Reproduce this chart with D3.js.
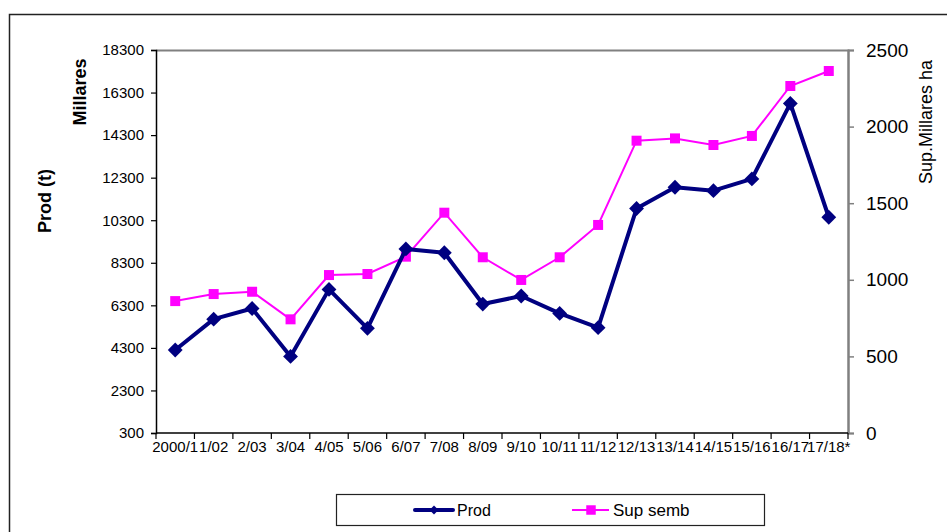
<!DOCTYPE html>
<html>
<head>
<meta charset="utf-8">
<script src="https://cdn.jsdelivr.net/npm/d3@7"></script>
<style>
  html, body { margin: 0; padding: 0; background: #fff; }
  svg { display: block; font-family: "Liberation Sans", Arial, sans-serif; }
</style>
</head>
<body>
<svg id="chart" width="947" height="532"></svg>
<script>
// Campaign labels
const seasons = ["2000/1", "1/02", "2/03", "3/04", "4/05", "5/06", "6/07", "7/08", "8/09",
  "9/10", "10/11", "11/12", "12/13", "13/14", "14/15", "15/16", "16/17", "17/18*"];
// Production (t, left axis)
const prod = [4200, 5650, 6150, 3900, 7050, 5220, 8950, 8770, 6360, 6740, 5920, 5250,
  10850, 11850, 11690, 12240, 15790, 10440];
// Sown area (thousand ha, right axis)
const supSemb = [861, 907, 922, 742, 1031, 1038, 1151, 1438, 1147, 999, 1147, 1358,
  1908, 1923, 1880, 1939, 2265, 2363];
// Axis ticks
const leftTicks = [300, 2300, 4300, 6300, 8300, 10300, 12300, 14300, 16300, 18300];
const rightTicks = [0, 500, 1000, 1500, 2000, 2500];

const svg = d3.select("#chart");
const m = { left: 156, right: 848, top: 50, bottom: 433 };

// outer frame
svg.append("rect")
  .attr("x", 9.5).attr("y", 14.5).attr("width", 960).attr("height", 540)
  .attr("fill", "none").attr("stroke", "#222").attr("stroke-width", 1.5);

const x = d3.scaleBand().domain(seasons).range([m.left, m.right]).padding(0);
const yL = d3.scaleLinear().domain([300, 18300]).range([m.bottom, m.top]);
const yR = d3.scaleLinear().domain([0, 2500]).range([m.bottom, m.top]);
const cx = d => x(d) + x.bandwidth() / 2;

// plot frame (top and right edges)
svg.append("path")
  .attr("d", `M${m.left},${m.top + 0.5}H${m.right + 0.5}V${m.bottom}`)
  .attr("fill", "none").attr("stroke", "#808080").attr("stroke-width", 2);

// left axis
const gL = svg.append("g").attr("transform", `translate(${m.left},0)`)
  .call(d3.axisLeft(yL).tickValues(leftTicks).tickSize(5).tickPadding(7).tickFormat(d3.format("d")));
gL.select(".domain").attr("stroke", "#000").attr("stroke-width", 1.5);
gL.selectAll(".tick line").attr("stroke", "#000").attr("stroke-width", 1.2);
gL.selectAll("text").attr("font-size", 15).attr("fill", "#000")
  .attr("font-family", "Liberation Sans, Arial, sans-serif");

// right axis
const gR = svg.append("g").attr("transform", `translate(${m.right},0)`)
  .call(d3.axisRight(yR).tickValues(rightTicks).tickSize(6).tickPadding(12).tickFormat(d3.format("d")));
gR.select(".domain").attr("stroke", "#808080").attr("stroke-width", 2);
gR.selectAll(".tick line").attr("stroke", "#808080").attr("stroke-width", 1.5);
gR.selectAll("text").attr("font-size", 19).attr("fill", "#000")
  .attr("font-family", "Liberation Sans, Arial, sans-serif");

// bottom axis: ticks at category boundaries
const boundaries = seasons.map(d => x(d)).concat([m.right]);
const gB = svg.append("g");
gB.append("line").attr("x1", m.left).attr("x2", m.right)
  .attr("y1", m.bottom).attr("y2", m.bottom)
  .attr("stroke", "#000").attr("stroke-width", 1.5);
gB.selectAll("line.tk").data(boundaries).join("line").attr("class", "tk")
  .attr("x1", d => d).attr("x2", d => d)
  .attr("y1", m.bottom).attr("y2", m.bottom + 6)
  .attr("stroke", "#000").attr("stroke-width", 1.2);
gB.selectAll("text").data(seasons).join("text")
  .attr("x", d => cx(d)).attr("y", m.bottom + 19)
  .attr("text-anchor", "middle").attr("font-size", 15).attr("fill", "#000")
  .text(d => d);

// axis titles
svg.append("text").attr("transform", "translate(86,92) rotate(-90)")
  .attr("text-anchor", "middle").attr("font-size", 18).attr("font-weight", "bold")
  .text("Millares");
svg.append("text").attr("transform", "translate(51,201) rotate(-90)")
  .attr("text-anchor", "middle").attr("font-size", 18).attr("font-weight", "bold")
  .text("Prod (t)");
svg.append("text").attr("transform", "translate(932,122) rotate(-90)")
  .attr("text-anchor", "middle").attr("font-size", 18)
  .text("Sup.Millares ha");

// series
const square = d3.symbol().type(d3.symbolSquare).size(100);

const lineR = d3.line().x((d, i) => cx(seasons[i])).y(d => yR(d));
svg.append("path").datum(supSemb).attr("d", lineR)
  .attr("fill", "none").attr("stroke", "#FF00FF").attr("stroke-width", 2);
svg.selectAll("path.sq").data(supSemb).join("path").attr("class", "sq")
  .attr("d", square)
  .attr("transform", (d, i) => `translate(${cx(seasons[i])},${yR(d)})`)
  .attr("fill", "#FF00FF");

const lineL = d3.line().x((d, i) => cx(seasons[i])).y(d => yL(d));
svg.append("path").datum(prod).attr("d", lineL)
  .attr("fill", "none").attr("stroke", "#000080").attr("stroke-width", 4)
  .attr("stroke-linejoin", "round");
svg.selectAll("path.dm").data(prod).join("path").attr("class", "dm")
  .attr("d", d3.symbol().type(d3.symbolSquare).size(110))
  .attr("transform", (d, i) => `translate(${cx(seasons[i])},${yL(d)}) rotate(45)`)
  .attr("fill", "#000080");

// legend
const lg = svg.append("g");
lg.append("rect").attr("x", 336.5).attr("y", 494.5).attr("width", 428).attr("height", 31)
  .attr("fill", "#fff").attr("stroke", "#222").attr("stroke-width", 1.2);
lg.append("line").attr("x1", 415).attr("x2", 453).attr("y1", 510).attr("y2", 510)
  .attr("stroke", "#000080").attr("stroke-width", 4).attr("stroke-linecap", "round");
lg.append("path").attr("d", d3.symbol().type(d3.symbolSquare).size(40))
  .attr("transform", "translate(434,510) rotate(45)").attr("fill", "#000080");
lg.append("text").attr("x", 457).attr("y", 516).attr("font-size", 16).text("Prod");
lg.append("line").attr("x1", 572).attr("x2", 609).attr("y1", 510).attr("y2", 510)
  .attr("stroke", "#FF00FF").attr("stroke-width", 2);
lg.append("path").attr("d", d3.symbol().type(d3.symbolSquare).size(90))
  .attr("transform", "translate(591,510)").attr("fill", "#FF00FF");
lg.append("text").attr("x", 613).attr("y", 516).attr("font-size", 17).text("Sup semb");
</script>
</body>
</html>
